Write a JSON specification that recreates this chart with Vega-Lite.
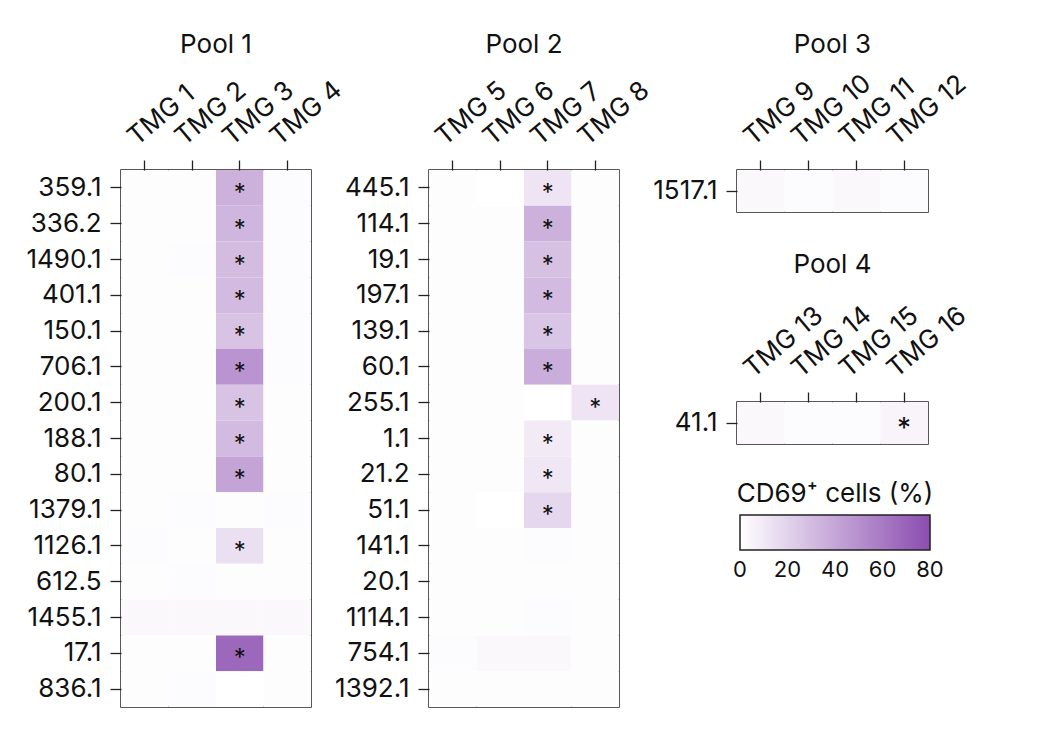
{
  "$schema": "https://vega.github.io/schema/vega-lite/v6.json",
  "padding": {"left": 25, "top": 30, "right": 5, "bottom": 5},
  "autosize": {"type": "pad"},
  "background": "white",
  "config": {
    "font": "Inter",
    "view": {"stroke": "#222222", "strokeWidth": 1.5},
    "axis": {"domain": false, "grid": false, "labelFontSize": 26, "labelColor": "#111111", "tickColor": "#222222", "tickWidth": 1.3, "title": null, "labelFont": "Inter"},
    "title": {"fontSize": 26, "fontWeight": "normal", "color": "#111111", "font": "Inter", "frame": "group", "anchor": "middle"},
    "legend": {"orient": "none", "legendX": 616, "legendY": 311, "direction": "horizontal", "gradientLength": 190, "gradientThickness": 35, "titleFontSize": 26, "titleFontWeight": "normal", "titleColor": "#111111", "titleFont": "Inter", "titleAnchor": "middle", "titleLimit": 400, "labelFontSize": 22, "labelColor": "#111111", "labelFont": "Inter", "gradientStrokeColor": "#222222", "gradientStrokeWidth": 1.5, "titlePadding": 8, "gradientLabelOffset": 10, "labelOverlap": false}
  },
  "datasets": {
    "pool1": [
      {"clone": "359.1", "tmg": "TMG 1", "pct": 1, "sig": ""}, {"clone": "359.1", "tmg": "TMG 2", "pct": 1, "sig": ""}, {"clone": "359.1", "tmg": "TMG 3", "pct": 35, "sig": "*"}, {"clone": "359.1", "tmg": "TMG 4", "pct": 2, "sig": ""},
      {"clone": "336.2", "tmg": "TMG 1", "pct": 1, "sig": ""}, {"clone": "336.2", "tmg": "TMG 2", "pct": 1, "sig": ""}, {"clone": "336.2", "tmg": "TMG 3", "pct": 33, "sig": "*"}, {"clone": "336.2", "tmg": "TMG 4", "pct": 2, "sig": ""},
      {"clone": "1490.1", "tmg": "TMG 1", "pct": 1, "sig": ""}, {"clone": "1490.1", "tmg": "TMG 2", "pct": 2, "sig": ""}, {"clone": "1490.1", "tmg": "TMG 3", "pct": 30, "sig": "*"}, {"clone": "1490.1", "tmg": "TMG 4", "pct": 2, "sig": ""},
      {"clone": "401.1", "tmg": "TMG 1", "pct": 1, "sig": ""}, {"clone": "401.1", "tmg": "TMG 2", "pct": 1, "sig": ""}, {"clone": "401.1", "tmg": "TMG 3", "pct": 31, "sig": "*"}, {"clone": "401.1", "tmg": "TMG 4", "pct": 2, "sig": ""},
      {"clone": "150.1", "tmg": "TMG 1", "pct": 1, "sig": ""}, {"clone": "150.1", "tmg": "TMG 2", "pct": 1, "sig": ""}, {"clone": "150.1", "tmg": "TMG 3", "pct": 27, "sig": "*"}, {"clone": "150.1", "tmg": "TMG 4", "pct": 2, "sig": ""},
      {"clone": "706.1", "tmg": "TMG 1", "pct": 1, "sig": ""}, {"clone": "706.1", "tmg": "TMG 2", "pct": 1, "sig": ""}, {"clone": "706.1", "tmg": "TMG 3", "pct": 48, "sig": "*"}, {"clone": "706.1", "tmg": "TMG 4", "pct": 2, "sig": ""},
      {"clone": "200.1", "tmg": "TMG 1", "pct": 1, "sig": ""}, {"clone": "200.1", "tmg": "TMG 2", "pct": 1, "sig": ""}, {"clone": "200.1", "tmg": "TMG 3", "pct": 27, "sig": "*"}, {"clone": "200.1", "tmg": "TMG 4", "pct": 1, "sig": ""},
      {"clone": "188.1", "tmg": "TMG 1", "pct": 1, "sig": ""}, {"clone": "188.1", "tmg": "TMG 2", "pct": 1, "sig": ""}, {"clone": "188.1", "tmg": "TMG 3", "pct": 31, "sig": "*"}, {"clone": "188.1", "tmg": "TMG 4", "pct": 1, "sig": ""},
      {"clone": "80.1", "tmg": "TMG 1", "pct": 1, "sig": ""}, {"clone": "80.1", "tmg": "TMG 2", "pct": 1, "sig": ""}, {"clone": "80.1", "tmg": "TMG 3", "pct": 41, "sig": "*"}, {"clone": "80.1", "tmg": "TMG 4", "pct": 1, "sig": ""},
      {"clone": "1379.1", "tmg": "TMG 1", "pct": 1, "sig": ""}, {"clone": "1379.1", "tmg": "TMG 2", "pct": 2, "sig": ""}, {"clone": "1379.1", "tmg": "TMG 3", "pct": 1, "sig": ""}, {"clone": "1379.1", "tmg": "TMG 4", "pct": 2, "sig": ""},
      {"clone": "1126.1", "tmg": "TMG 1", "pct": 2, "sig": ""}, {"clone": "1126.1", "tmg": "TMG 2", "pct": 1, "sig": ""}, {"clone": "1126.1", "tmg": "TMG 3", "pct": 14, "sig": "*"}, {"clone": "1126.1", "tmg": "TMG 4", "pct": 1, "sig": ""},
      {"clone": "612.5", "tmg": "TMG 1", "pct": 1, "sig": ""}, {"clone": "612.5", "tmg": "TMG 2", "pct": 2, "sig": ""}, {"clone": "612.5", "tmg": "TMG 3", "pct": 1, "sig": ""}, {"clone": "612.5", "tmg": "TMG 4", "pct": 1, "sig": ""},
      {"clone": "1455.1", "tmg": "TMG 1", "pct": 3, "sig": ""}, {"clone": "1455.1", "tmg": "TMG 2", "pct": 3, "sig": ""}, {"clone": "1455.1", "tmg": "TMG 3", "pct": 3, "sig": ""}, {"clone": "1455.1", "tmg": "TMG 4", "pct": 3, "sig": ""},
      {"clone": "17.1", "tmg": "TMG 1", "pct": 1, "sig": ""}, {"clone": "17.1", "tmg": "TMG 2", "pct": 1, "sig": ""}, {"clone": "17.1", "tmg": "TMG 3", "pct": 68, "sig": "*"}, {"clone": "17.1", "tmg": "TMG 4", "pct": 1, "sig": ""},
      {"clone": "836.1", "tmg": "TMG 1", "pct": 1, "sig": ""}, {"clone": "836.1", "tmg": "TMG 2", "pct": 2, "sig": ""}, {"clone": "836.1", "tmg": "TMG 3", "pct": 0, "sig": ""}, {"clone": "836.1", "tmg": "TMG 4", "pct": 1, "sig": ""}
    ],
    "pool2": [
      {"clone": "445.1", "tmg": "TMG 5", "pct": 1, "sig": ""}, {"clone": "445.1", "tmg": "TMG 6", "pct": 0, "sig": ""}, {"clone": "445.1", "tmg": "TMG 7", "pct": 12, "sig": "*"}, {"clone": "445.1", "tmg": "TMG 8", "pct": 1, "sig": ""},
      {"clone": "114.1", "tmg": "TMG 5", "pct": 1, "sig": ""}, {"clone": "114.1", "tmg": "TMG 6", "pct": 1, "sig": ""}, {"clone": "114.1", "tmg": "TMG 7", "pct": 35, "sig": "*"}, {"clone": "114.1", "tmg": "TMG 8", "pct": 1, "sig": ""},
      {"clone": "19.1", "tmg": "TMG 5", "pct": 1, "sig": ""}, {"clone": "19.1", "tmg": "TMG 6", "pct": 1, "sig": ""}, {"clone": "19.1", "tmg": "TMG 7", "pct": 28, "sig": "*"}, {"clone": "19.1", "tmg": "TMG 8", "pct": 1, "sig": ""},
      {"clone": "197.1", "tmg": "TMG 5", "pct": 1, "sig": ""}, {"clone": "197.1", "tmg": "TMG 6", "pct": 1, "sig": ""}, {"clone": "197.1", "tmg": "TMG 7", "pct": 31, "sig": "*"}, {"clone": "197.1", "tmg": "TMG 8", "pct": 1, "sig": ""},
      {"clone": "139.1", "tmg": "TMG 5", "pct": 1, "sig": ""}, {"clone": "139.1", "tmg": "TMG 6", "pct": 1, "sig": ""}, {"clone": "139.1", "tmg": "TMG 7", "pct": 26, "sig": "*"}, {"clone": "139.1", "tmg": "TMG 8", "pct": 1, "sig": ""},
      {"clone": "60.1", "tmg": "TMG 5", "pct": 1, "sig": ""}, {"clone": "60.1", "tmg": "TMG 6", "pct": 1, "sig": ""}, {"clone": "60.1", "tmg": "TMG 7", "pct": 37, "sig": "*"}, {"clone": "60.1", "tmg": "TMG 8", "pct": 1, "sig": ""},
      {"clone": "255.1", "tmg": "TMG 5", "pct": 1, "sig": ""}, {"clone": "255.1", "tmg": "TMG 6", "pct": 1, "sig": ""}, {"clone": "255.1", "tmg": "TMG 7", "pct": 0, "sig": ""}, {"clone": "255.1", "tmg": "TMG 8", "pct": 12, "sig": "*"},
      {"clone": "1.1", "tmg": "TMG 5", "pct": 1, "sig": ""}, {"clone": "1.1", "tmg": "TMG 6", "pct": 1, "sig": ""}, {"clone": "1.1", "tmg": "TMG 7", "pct": 9, "sig": "*"}, {"clone": "1.1", "tmg": "TMG 8", "pct": 1, "sig": ""},
      {"clone": "21.2", "tmg": "TMG 5", "pct": 1, "sig": ""}, {"clone": "21.2", "tmg": "TMG 6", "pct": 1, "sig": ""}, {"clone": "21.2", "tmg": "TMG 7", "pct": 11, "sig": "*"}, {"clone": "21.2", "tmg": "TMG 8", "pct": 1, "sig": ""},
      {"clone": "51.1", "tmg": "TMG 5", "pct": 1, "sig": ""}, {"clone": "51.1", "tmg": "TMG 6", "pct": 0, "sig": ""}, {"clone": "51.1", "tmg": "TMG 7", "pct": 18, "sig": "*"}, {"clone": "51.1", "tmg": "TMG 8", "pct": 1, "sig": ""},
      {"clone": "141.1", "tmg": "TMG 5", "pct": 1, "sig": ""}, {"clone": "141.1", "tmg": "TMG 6", "pct": 1, "sig": ""}, {"clone": "141.1", "tmg": "TMG 7", "pct": 2, "sig": ""}, {"clone": "141.1", "tmg": "TMG 8", "pct": 1, "sig": ""},
      {"clone": "20.1", "tmg": "TMG 5", "pct": 1, "sig": ""}, {"clone": "20.1", "tmg": "TMG 6", "pct": 1, "sig": ""}, {"clone": "20.1", "tmg": "TMG 7", "pct": 1, "sig": ""}, {"clone": "20.1", "tmg": "TMG 8", "pct": 1, "sig": ""},
      {"clone": "1114.1", "tmg": "TMG 5", "pct": 1, "sig": ""}, {"clone": "1114.1", "tmg": "TMG 6", "pct": 1, "sig": ""}, {"clone": "1114.1", "tmg": "TMG 7", "pct": 2, "sig": ""}, {"clone": "1114.1", "tmg": "TMG 8", "pct": 1, "sig": ""},
      {"clone": "754.1", "tmg": "TMG 5", "pct": 2, "sig": ""}, {"clone": "754.1", "tmg": "TMG 6", "pct": 3, "sig": ""}, {"clone": "754.1", "tmg": "TMG 7", "pct": 3, "sig": ""}, {"clone": "754.1", "tmg": "TMG 8", "pct": 1, "sig": ""},
      {"clone": "1392.1", "tmg": "TMG 5", "pct": 1, "sig": ""}, {"clone": "1392.1", "tmg": "TMG 6", "pct": 1, "sig": ""}, {"clone": "1392.1", "tmg": "TMG 7", "pct": 1, "sig": ""}, {"clone": "1392.1", "tmg": "TMG 8", "pct": 1, "sig": ""}
    ],
    "pool3": [
      {"clone": "1517.1", "tmg": "TMG 9", "pct": 3, "sig": ""}, {"clone": "1517.1", "tmg": "TMG 10", "pct": 2, "sig": ""}, {"clone": "1517.1", "tmg": "TMG 11", "pct": 3, "sig": ""}, {"clone": "1517.1", "tmg": "TMG 12", "pct": 2, "sig": ""}
    ],
    "pool4": [
      {"clone": "41.1", "tmg": "TMG 13", "pct": 3, "sig": ""}, {"clone": "41.1", "tmg": "TMG 14", "pct": 2, "sig": ""}, {"clone": "41.1", "tmg": "TMG 15", "pct": 2, "sig": ""}, {"clone": "41.1", "tmg": "TMG 16", "pct": 5, "sig": "*"}
    ]
  },
  "bounds": "flush",
  "spacing": 118,
  "resolve": {"scale": {"x": "independent", "y": "independent", "color": "shared"}},
  "hconcat": [
    {
      "width": 190, "height": 537,
      "title": {"text": "Pool 1", "offset": 18},
      "data": {"name": "pool1"},
      "encoding": {
        "x": {"field": "tmg", "type": "nominal", "sort": null, "scale": {"paddingInner": 0, "paddingOuter": 0}, "axis": {"orient": "top", "labelAngle": -40, "labelAlign": "left", "labelBaseline": "alphabetic", "labelOffset": -8, "labelPadding": 14, "tickSize": 10}},
        "y": {"field": "clone", "type": "nominal", "sort": null, "scale": {"paddingInner": 0, "paddingOuter": 0}, "axis": {"tickSize": 11, "labelPadding": 9}}
      },
      "layer": [
        {"mark": {"type": "rect"}, "encoding": {"color": {"field": "pct", "type": "quantitative", "title": "CD69⁺ cells (%)", "legend": {"values": [0, 20, 40, 60, 80], "labelOffset": 10, "encode": {"labels": {"update": {"align": {"value": "center"}}}}}, "scale": {"domain": [0, 80], "range": ["#ffffff", "#8b4db0"], "interpolate": "rgb"}}}},
        {"mark": {"type": "text", "fontSize": 24, "dy": 6, "color": "#111111"}, "encoding": {"text": {"field": "sig"}}}
      ]
    },
    {
      "width": 190, "height": 537,
      "title": {"text": "Pool 2", "offset": 18},
      "data": {"name": "pool2"},
      "encoding": {
        "x": {"field": "tmg", "type": "nominal", "sort": null, "scale": {"paddingInner": 0, "paddingOuter": 0}, "axis": {"orient": "top", "labelAngle": -40, "labelAlign": "left", "labelBaseline": "alphabetic", "labelOffset": -8, "labelPadding": 14, "tickSize": 10}},
        "y": {"field": "clone", "type": "nominal", "sort": null, "scale": {"paddingInner": 0, "paddingOuter": 0}, "axis": {"tickSize": 11, "labelPadding": 9}}
      },
      "layer": [
        {"mark": {"type": "rect"}, "encoding": {"color": {"field": "pct", "type": "quantitative", "title": "CD69⁺ cells (%)", "legend": {"values": [0, 20, 40, 60, 80], "labelOffset": 10, "encode": {"labels": {"update": {"align": {"value": "center"}}}}}, "scale": {"domain": [0, 80], "range": ["#ffffff", "#8b4db0"], "interpolate": "rgb"}}}},
        {"mark": {"type": "text", "fontSize": 24, "dy": 6, "color": "#111111"}, "encoding": {"text": {"field": "sig"}}}
      ]
    },
    {
      "bounds": "flush",
      "spacing": 190,
      "resolve": {"scale": {"x": "independent", "y": "independent", "color": "shared"}},
      "vconcat": [
        {
          "width": 191, "height": 42,
          "title": {"text": "Pool 3", "offset": 12},
          "data": {"name": "pool3"},
          "encoding": {
            "x": {"field": "tmg", "type": "nominal", "sort": null, "scale": {"paddingInner": 0, "paddingOuter": 0}, "axis": {"orient": "top", "labelAngle": -40, "labelAlign": "left", "labelBaseline": "alphabetic", "labelOffset": -8, "labelPadding": 14, "tickSize": 10}},
            "y": {"field": "clone", "type": "nominal", "sort": null, "scale": {"paddingInner": 0, "paddingOuter": 0}, "axis": {"tickSize": 11, "labelPadding": 9}}
          },
          "layer": [
            {"mark": {"type": "rect"}, "encoding": {"color": {"field": "pct", "type": "quantitative", "title": "CD69⁺ cells (%)", "legend": {"values": [0, 20, 40, 60, 80], "labelOffset": 10, "encode": {"labels": {"update": {"align": {"value": "center"}}}}}, "scale": {"domain": [0, 80], "range": ["#ffffff", "#8b4db0"], "interpolate": "rgb"}}}},
            {"mark": {"type": "text", "fontSize": 24, "dy": 6, "color": "#111111"}, "encoding": {"text": {"field": "sig"}}}
          ]
        },
        {
          "width": 191, "height": 42,
          "title": {"text": "Pool 4", "offset": 23},
          "data": {"name": "pool4"},
          "encoding": {
            "x": {"field": "tmg", "type": "nominal", "sort": null, "scale": {"paddingInner": 0, "paddingOuter": 0}, "axis": {"orient": "top", "labelAngle": -40, "labelAlign": "left", "labelBaseline": "alphabetic", "labelOffset": -8, "labelPadding": 14, "tickSize": 10}},
            "y": {"field": "clone", "type": "nominal", "sort": null, "scale": {"paddingInner": 0, "paddingOuter": 0}, "axis": {"tickSize": 11, "labelPadding": 9}}
          },
          "layer": [
            {"mark": {"type": "rect"}, "encoding": {"color": {"field": "pct", "type": "quantitative", "title": "CD69⁺ cells (%)", "legend": {"values": [0, 20, 40, 60, 80], "labelOffset": 10, "encode": {"labels": {"update": {"align": {"value": "center"}}}}}, "scale": {"domain": [0, 80], "range": ["#ffffff", "#8b4db0"], "interpolate": "rgb"}}}},
            {"mark": {"type": "text", "fontSize": 28, "dy": 7, "color": "#111111"}, "encoding": {"text": {"field": "sig"}}}
          ]
        }
      ]
    }
  ]
}
